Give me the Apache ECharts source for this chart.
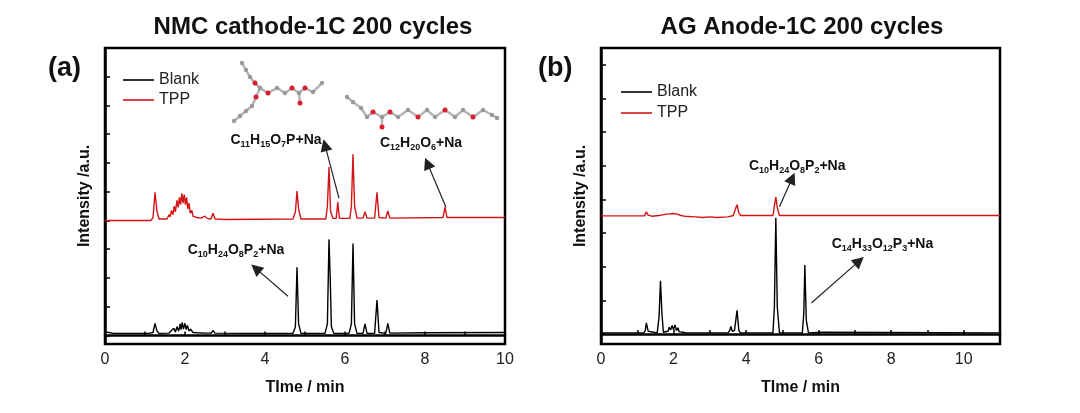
<!DOCTYPE html>
<html><head><meta charset="utf-8">
<script src="https://cdn.jsdelivr.net/npm/echarts@6/dist/echarts.min.js"></script>
<style>html,body{margin:0;padding:0;background:#fff}#c{width:1080px;height:413px}</style>
</head><body><div id="c"></div>
<script>
// ---- data (panel a: NMC cathode) : [time/min, intensity]
const blankA = [[0,0.12],[0.1,0.1],[0.2,0.07],[1.1,0.07],[1.2,0.1],[1.25,0.42],[1.3,0.15],[1.35,0.07],[1.6,0.08],[1.65,0.15],[1.68,0.1],[1.72,0.25],[1.76,0.12],[1.8,0.3],[1.84,0.15],[1.88,0.4],[1.9,0.2],[1.93,0.45],[1.96,0.22],[2.0,0.42],[2.03,0.2],[2.06,0.35],[2.1,0.15],[2.14,0.22],[2.2,0.1],[2.3,0.09],[2.5,0.08],[2.66,0.08],[2.7,0.17],[2.75,0.08],[3.5,0.07],[4.7,0.07],[4.76,0.3],[4.8,2.37],[4.84,0.4],[4.9,0.07],[5.5,0.07],[5.56,0.4],[5.6,3.34],[5.63,2.0],[5.66,0.3],[5.72,0.07],[6.1,0.07],[6.16,0.4],[6.2,3.2],[6.24,0.4],[6.3,0.07],[6.45,0.07],[6.5,0.4],[6.55,0.07],[6.74,0.07],[6.8,1.23],[6.85,0.1],[7.02,0.07],[7.07,0.42],[7.12,0.08],[8,0.09],[10,0.1]];
const tppA = [[0,4.0],[1.15,4.0],[1.2,4.1],[1.25,4.98],[1.3,4.3],[1.35,4.05],[1.55,4.05],[1.6,4.2],[1.63,4.12],[1.66,4.35],[1.7,4.2],[1.73,4.5],[1.76,4.3],[1.8,4.7],[1.83,4.45],[1.86,4.8],[1.89,4.55],[1.92,4.94],[1.95,4.6],[1.98,4.9],[2.01,4.55],[2.04,4.8],[2.07,4.4],[2.1,4.6],[2.13,4.25],[2.17,4.35],[2.2,4.15],[2.3,4.1],[2.4,4.08],[2.5,4.15],[2.55,4.07],[2.6,4.12],[2.65,4.05],[2.7,4.25],[2.75,4.05],[3,4.03],[4.7,4.05],[4.76,4.3],[4.8,5.02],[4.84,4.4],[4.9,4.05],[5.52,4.05],[5.56,4.5],[5.6,5.86],[5.64,4.3],[5.7,4.07],[5.78,4.07],[5.82,4.64],[5.86,4.07],[6.12,4.07],[6.16,4.5],[6.2,6.3],[6.24,4.5],[6.3,4.08],[6.45,4.08],[6.5,4.3],[6.55,4.08],[6.74,4.08],[6.8,4.98],[6.85,4.1],[7.02,4.08],[7.07,4.33],[7.12,4.08],[8.45,4.1],[8.5,4.46],[8.55,4.1],[10,4.1]];
// ---- data (panel b: AG anode)
const blankB = [[0,0.03],[1.18,0.03],[1.22,0.1],[1.25,0.33],[1.3,0.08],[1.35,0.03],[1.55,0.03],[1.6,0.5],[1.64,1.58],[1.68,0.6],[1.72,0.05],[1.85,0.08],[1.88,0.2],[1.92,0.12],[1.96,0.25],[2.0,0.12],[2.04,0.27],[2.08,0.1],[2.12,0.18],[2.16,0.06],[2.25,0.05],[2.35,0.03],[3.5,0.03],[3.55,0.1],[3.58,0.22],[3.62,0.08],[3.68,0.1],[3.75,0.7],[3.8,0.1],[3.85,0.03],[4.74,0.03],[4.78,0.8],[4.82,3.45],[4.86,0.8],[4.92,0.03],[5.55,0.03],[5.59,0.6],[5.62,2.05],[5.66,0.4],[5.72,0.03],[6.1,0.05],[6.15,0.03],[11,0.03]];
const tppB = [[0,3.51],[1.2,3.51],[1.25,3.63],[1.3,3.53],[1.4,3.5],[1.6,3.52],[1.65,3.55],[1.7,3.54],[1.75,3.58],[1.8,3.56],[1.85,3.6],[1.9,3.57],[1.95,3.61],[2.0,3.58],[2.05,3.6],[2.1,3.56],[2.15,3.57],[2.2,3.52],[2.3,3.5],[2.6,3.48],[2.8,3.46],[3.0,3.48],[3.2,3.46],[3.5,3.48],[3.65,3.52],[3.7,3.7],[3.75,3.84],[3.8,3.6],[3.85,3.52],[4.74,3.52],[4.78,3.8],[4.82,4.07],[4.86,3.75],[4.92,3.52],[11,3.52]];
// ---- ticks
const xTicksA = [0,1,2,3,4,5,6,7,8,9,10];
const xLabelsA = [0,2,4,6,8,10];
const xTicksB = [0,1,2,3,4,5,6,7,8,9,10,11];
const xLabelsB = [0,2,4,6,8,10];
const yTicksA = [0,1,2,3,4,5,6,7,8,9];
const yTicksB = [0,1,2,3,4,5,6,7,8];
// ---- annotations: [text, labelX, labelY, arrowFromX, arrowFromY, arrowToX, arrowToY]
const annA = [
  ['{m|C}{s|11}{m|H}{s|15}{m|O}{s|7}{m|P+Na}', 4.275, 6.76, 5.85, 4.77, 5.5, 6.62],
  ['{m|C}{s|12}{m|H}{s|20}{m|O}{s|6}{m|+Na}', 7.9, 6.65, 8.525, 4.46, 8.06, 5.99],
  ['{m|C}{s|10}{m|H}{s|24}{m|O}{s|8}{m|P}{s|2}{m|+Na}', 3.275, 2.93, 4.575, 1.36, 3.77, 2.33]
];
const annB = [
  ['{m|C}{s|10}{m|H}{s|24}{m|O}{s|8}{m|P}{s|2}{m|+Na}', 5.41, 4.97, 4.92, 3.78, 5.27, 4.63],
  ['{m|C}{s|14}{m|H}{s|33}{m|O}{s|12}{m|P}{s|3}{m|+Na}', 7.76, 2.65, 5.8, 0.92, 7.12, 2.17]
];

const FONT = '"Liberation Sans", Arial, sans-serif';
const rich = {
  m:{fontSize:14,fontWeight:'bold',color:'#111',fontFamily:FONT,lineHeight:16,verticalAlign:'top'},
  s:{fontSize:9,fontWeight:'bold',color:'#111',fontFamily:FONT,lineHeight:16,verticalAlign:'bottom'}
};
function marks(ann){
  return {
    markLine:{silent:true,animation:false,symbol:['none','triangle'],symbolSize:12,
      lineStyle:{color:'#222',width:1.2,type:'solid'},itemStyle:{color:'#000'},label:{show:false},
      data: ann.map(a=>[{coord:[a[3],a[4]]},{coord:[a[5],a[6]]}])},
    markPoint:{silent:true,animation:false,symbol:'rect',symbolSize:1,itemStyle:{color:'rgba(0,0,0,0)'},
      data: ann.map(a=>({coord:[a[1],a[2]],value:0,label:{show:true,position:'inside',formatter:a[0],rich:rich}}))}
  };
}
function xAx(idx,max,ticks,labels){
  return {type:'value',gridIndex:idx,min:0,max:max,
    name:'TIme / min',nameLocation:'middle',nameGap:36,
    nameTextStyle:{fontFamily:FONT,fontSize:16,fontWeight:'bold',color:'#111'},
    axisLine:{show:true,lineStyle:{color:'#000',width:2.5}},
    axisTick:{show:true,inside:true,length:4,customValues:ticks,lineStyle:{color:'#000',width:1.5}},
    axisLabel:{customValues:labels,fontFamily:FONT,fontSize:16,color:'#222',margin:8},
    splitLine:{show:false}};
}
function yAx(idx,max,ticks){
  return {type:'value',gridIndex:idx,min:-0.3,max:max,
    name:'Intensity /a.u.',nameLocation:'middle',nameGap:12,
    nameTextStyle:{fontFamily:FONT,fontSize:16,fontWeight:'bold',color:'#111'},
    axisLine:{show:true,lineStyle:{color:'#000',width:2.5}},
    axisTick:{show:true,inside:true,length:5,customValues:ticks,lineStyle:{color:'#000',width:1.5}},
    axisLabel:{show:false},splitLine:{show:false}};
}
function ser(name,data,color,xi,extra){
  return Object.assign({type:'line',name:name,data:data,xAxisIndex:xi,yAxisIndex:xi,symbol:'none',
    lineStyle:{color:color,width:1.4},itemStyle:{color:color},animation:false},extra||{});
}
// molecule sketches (decorative)
function mol(chain, reds){
  const els=[];
  chain.forEach(c=>els.push({type:'polyline',shape:{points:c},style:{stroke:'#b4b4b4',lineWidth:2.5,fill:null},silent:true}));
  chain.forEach(c=>c.forEach(p=>els.push({type:'circle',shape:{cx:p[0],cy:p[1],r:2.2},style:{fill:'#999'},silent:true})));
  reds.forEach(p=>els.push({type:'circle',shape:{cx:p[0],cy:p[1],r:2.5},style:{fill:'#dc2030'},silent:true}));
  return els;
}
const mol1 = mol(
  [[[242,63],[246,70],[250,77],[255,83],[260,88]],
   [[260,88],[256,97],[252,106],[246,111],[240,116],[234,121]],
   [[260,88],[268,93],[277,88],[285,93],[292,88],[299,93],[305,88],[313,92],[322,83]],
   [[299,93],[300,103]]],
  [[255,83],[256,97],[268,93],[292,88],[300,103],[305,88]]);
const mol2 = mol(
  [[[347,97],[353,102],[361,108],[367,117],[373,112],[382,117],[390,112],[398,117],[408,110],[418,117],[427,110],[435,117],[445,110],[455,117],[463,110],[473,117],[483,110],[492,115],[497,118]],
   [[382,117],[382,127]]],
  [[373,112],[382,127],[390,112],[418,117],[445,110],[473,117]]);

const legendItems = [{name:'Blank',icon:'rect'},{name:'TPP',icon:'rect'}];
const chart = echarts.init(document.getElementById('c'),null,{renderer:'canvas'});
chart.setOption({
  backgroundColor:'#fff',
  animation:false,
  title:[
    {text:'NMC cathode-1C 200 cycles',left:308,top:10,textAlign:'center',textStyle:{fontFamily:FONT,fontSize:24,fontWeight:'bold',color:'#111'}},
    {text:'AG Anode-1C 200 cycles',left:797,top:10,textAlign:'center',textStyle:{fontFamily:FONT,fontSize:24,fontWeight:'bold',color:'#111'}}
  ],
  grid:[
    {left:105,right:575,top:48,bottom:69,show:true,borderColor:'#000',borderWidth:2.5,containLabel:false},
    {left:601,right:80,top:48,bottom:69,show:true,borderColor:'#000',borderWidth:2.5,containLabel:false}
  ],
  legend:[
    {orient:'vertical',left:118,top:67,data:legendItems,itemWidth:31,itemHeight:1.6,itemGap:4,
      textStyle:{fontFamily:FONT,fontSize:16,color:'#222'},selectedMode:false},
    {orient:'vertical',left:616,top:79,data:legendItems,itemWidth:31,itemHeight:1.6,itemGap:5,
      textStyle:{fontFamily:FONT,fontSize:16,color:'#222'},selectedMode:false}
  ],
  xAxis:[xAx(0,10,xTicksA,xLabelsA), xAx(1,11,xTicksB,xLabelsB)],
  yAxis:[yAx(0,10,yTicksA), yAx(1,8.5,yTicksB)],
  series:[
    ser('Blank',blankA,'#000',0,marks(annA)),
    ser('TPP',tppA,'#d41414',0),
    ser('Blank',blankB,'#000',1,marks(annB)),
    ser('TPP',tppB,'#d41414',1)
  ],
  graphic:[
    {type:'text',left:48,top:55,style:{text:'(a)',font:'bold 27px '+FONT,fill:'#111'}},
    {type:'text',left:538,top:55,style:{text:'(b)',font:'bold 27px '+FONT,fill:'#111'}}
  ].concat(mol1,mol2)
});
</script></body></html>
